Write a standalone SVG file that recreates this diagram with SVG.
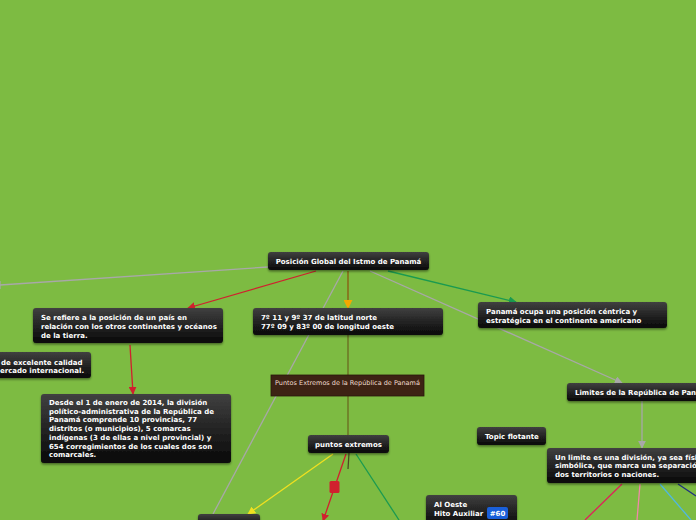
<svg xmlns="http://www.w3.org/2000/svg" width="696" height="520" viewBox="0 0 696 520">
<defs>
<linearGradient id="dk" x1="0" y1="0" x2="0" y2="1">
<stop offset="0" stop-color="#404040"/>
<stop offset="1" stop-color="#080808"/>
</linearGradient>
<filter id="sh" x="-10%" y="-20%" width="120%" height="160%">
<feDropShadow dx="0" dy="1.5" stdDeviation="1.2" flood-color="#000" flood-opacity="0.45"/>
</filter>
<marker id="ar" viewBox="0 0 10 10" refX="9" refY="5" markerWidth="8" markerHeight="8" orient="auto-start-reverse" markerUnits="userSpaceOnUse"><path d="M0,0 L10,5 L0,10 z" fill="#d0202e"/></marker>
<marker id="ag" viewBox="0 0 10 10" refX="9" refY="5" markerWidth="8" markerHeight="8" orient="auto" markerUnits="userSpaceOnUse"><path d="M0,0 L10,5 L0,10 z" fill="#1a9a50"/></marker>
<marker id="agr" viewBox="0 0 10 10" refX="9" refY="5" markerWidth="8" markerHeight="8" orient="auto" markerUnits="userSpaceOnUse"><path d="M0,0 L10,5 L0,10 z" fill="#a8a8a8"/></marker>
<marker id="ay" viewBox="0 0 10 10" refX="9" refY="5" markerWidth="8" markerHeight="8" orient="auto" markerUnits="userSpaceOnUse"><path d="M0,0 L10,5 L0,10 z" fill="#f0e020"/></marker>
<marker id="ao" viewBox="0 0 10 10" refX="9" refY="5" markerWidth="9" markerHeight="9" orient="auto" markerUnits="userSpaceOnUse"><path d="M0,0 L10,5 L0,10 z" fill="#f5a800"/></marker>
</defs>
<style>
.n{fill:url(#dk);filter:url(#sh)}
.t{font-family:"DejaVu Sans",Verdana,sans-serif;font-size:7px;font-weight:bold;fill:#fff}
.c{fill:none;stroke-width:1.3}
</style>
<rect width="696" height="520" fill="#7dbb42"/>
<g id="connectors">
<path class="c" d="M268,267 L0,285" stroke="#a8a8a8"/>
<path class="c" d="M0,281 L0,289" stroke="#a8a8a8"/>
<path class="c" d="M316,271 L188,308" stroke="#d0202e" marker-end="url(#ar)"/>
<path class="c" d="M348,271 L348,308" stroke="#8a5a10" marker-end="url(#ao)"/>
<path class="c" d="M348,335 L348,375" stroke="#6b6a20"/>
<path class="c" d="M348,396 L348,435" stroke="#6b6a20"/>
<path class="c" d="M349,453 L348,469" stroke="#4a4a20"/>
<path class="c" d="M343,271 L213,514" stroke="#a8a8a8"/>
<path class="c" d="M370,271 L622,383" stroke="#a8a8a8" marker-end="url(#agr)"/>
<path class="c" d="M388,271 L516,302" stroke="#1a9a50" marker-end="url(#ag)"/>
<path class="c" d="M130,345 L133,394" stroke="#d0202e" marker-end="url(#ar)"/>
<path class="c" d="M642,401 L642,448" stroke="#a8a8a8" marker-end="url(#agr)"/>
<path class="c" d="M333,454 L248,514" stroke="#f0e020" marker-end="url(#ay)"/>
<path class="c" d="M346,454 L323,521" stroke="#d0202e" marker-end="url(#ar)"/>
<rect x="329.5" y="481" width="10" height="12" rx="1.5" fill="#d0202e"/>
<path class="c" d="M356,454 L399,520" stroke="#1a9a50"/>
<path class="c" d="M622,484 L585,520" stroke="#e0205a"/>
<path class="c" d="M640,484 L637,520" stroke="#f088a8"/>
<path class="c" d="M660,484 L691,520" stroke="#50b8e0"/>
<path class="c" d="M678,484 L696,496" stroke="#203080"/>
</g>
<g id="n-central"><rect class="n" x="268" y="252" width="161" height="18" rx="3"/><text class="t" x="348.5" y="263.5" text-anchor="middle">Posición Global del Istmo de Panamá</text></g>
<g id="n-refiere"><rect class="n" x="33" y="308" width="190" height="35" rx="3"/><text class="t" x="41" y="319.5">Se refiere a la posición de un país en</text><text class="t" x="41" y="328.5">relación con los otros continentes y océanos</text><text class="t" x="41" y="337.5">de la tierra.</text></g>
<g id="n-calidad"><rect class="n" x="-10" y="352" width="101" height="26" rx="3"/><text class="t" x="1" y="364.5">de excelente calidad</text><text class="t" x="0" y="373">ercado internacional.</text></g>
<g id="n-coords"><rect class="n" x="253" y="308" width="190" height="27" rx="3"/><text class="t" x="261" y="319.5">7º 11 y 9º 37 de latitud norte</text><text class="t" x="261" y="328.5">77º 09  y 83º 00 de longitud oeste</text></g>
<g id="n-puntosext"><rect x="271" y="375" width="153" height="21" fill="#3d2314" stroke="#2a180c" stroke-width="0.8"/><text x="275" y="384.5" font-family="DejaVu Sans,Verdana,sans-serif" font-size="6.5" fill="#f0dcd0">Puntos Extremos de la República de Panamá</text></g>
<g id="n-centrica"><rect class="n" x="478" y="302" width="189" height="26" rx="3"/><text class="t" x="486" y="313.5">Panamá ocupa una posición céntrica y</text><text class="t" x="486" y="322.5">estratégica en el continente americano</text></g>
<g id="n-limites"><rect class="n" x="567" y="383" width="140" height="18" rx="3"/><text class="t" x="575" y="394.5">Limites de la República de Pana</text></g>
<g id="n-desde"><rect class="n" x="41" y="394" width="190" height="69" rx="3"/>
<text class="t" x="49" y="405">Desde el 1 de enero de 2014, la división</text>
<text class="t" x="49" y="413.7">político-administrativa de la República de</text>
<text class="t" x="49" y="422.4">Panamá comprende 10 provincias, 77</text>
<text class="t" x="49" y="431.1">distritos (o municipios), 5 comarcas</text>
<text class="t" x="49" y="439.8">indígenas (3 de ellas a nivel provincial) y</text>
<text class="t" x="49" y="448.5">654 corregimientos de los cuales dos son</text>
<text class="t" x="49" y="457.2">comarcales.</text></g>
<g id="n-topic"><rect class="n" x="477" y="427" width="69" height="18" rx="3"/><text class="t" x="485" y="439">Topic flotante</text></g>
<g id="n-puntos"><rect class="n" x="308" y="435" width="81" height="18" rx="3"/><text class="t" x="348.5" y="447" text-anchor="middle">puntos extremos</text></g>
<g id="n-limite"><rect class="n" x="547" y="448" width="160" height="35" rx="3"/><text class="t" x="555" y="459.5">Un limite es una división, ya sea físi</text><text class="t" x="555" y="468">simbólica, que marca una separació</text><text class="t" x="555" y="476.5">dos territorios o naciones.</text></g>
<g id="n-oeste"><rect class="n" x="426" y="495" width="91" height="30" rx="3"/><text class="t" x="434" y="506.5">Al Oeste</text><text class="t" x="434" y="515.5">Hito Auxiliar</text><rect x="487" y="507" width="21" height="12" rx="2" fill="#1a5fd8"/><text class="t" x="497.5" y="515.8" text-anchor="middle">#60</text></g>
<g id="n-bottom"><rect class="n" x="198" y="514" width="62" height="14" rx="3"/></g>
</svg>
